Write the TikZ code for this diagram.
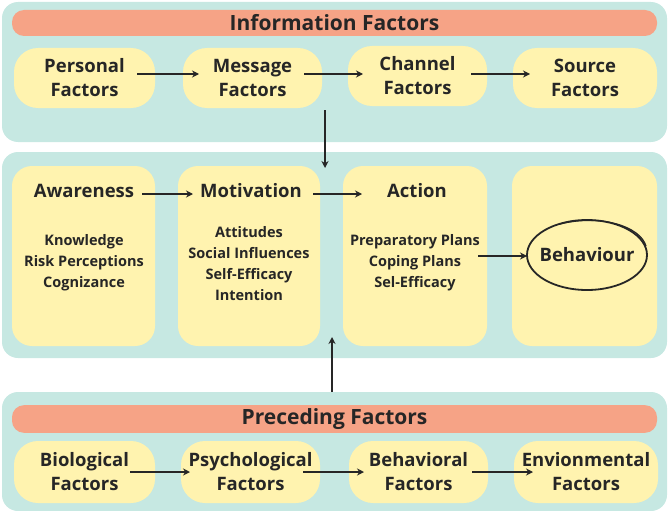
\documentclass[tikz,border=0pt]{standalone}
\usepackage{fontspec}
\setmainfont{Open Sans}
\usetikzlibrary{arrows.meta,shapes.geometric}
\definecolor{teal}{HTML}{C6E8E2}
\definecolor{salmon}{HTML}{F6A386}
\definecolor{yel}{HTML}{FFF3AF}
\tikzset{
 band/.style={fill=teal,draw=none,rounded corners=16pt},
 bar/.style={fill=salmon,draw=none,rounded corners=12pt,font=\bfseries\fontsize{21}{22}\selectfont,text=black!85},
 pill/.style={fill=yel,draw=none,rounded corners=24pt,font=\bfseries\fontsize{18.5}{24}\selectfont,align=center,text=black!85},
 box/.style={fill=yel,draw=none,rounded corners=20pt},
 hd/.style={font=\bfseries\fontsize{18.5}{20}\selectfont,text=black!85},
 sub/.style={font=\bfseries\fontsize{14.5}{21}\selectfont,align=center,text=black!85},
 arr/.style={-{Stealth[length=7pt,width=7pt]},line width=1.3pt,black!85}
}
\begin{document}
\begin{tikzpicture}[x=1pt,y=-1pt]
\useasboundingbox (0,0) rectangle (669,511);
% top band
\fill[band] (2,2) rectangle (667,142);
\node[bar,minimum width=645,minimum height=26] (t1) at (334.5,23) {Information Factors};
\node[pill,minimum width=141,minimum height=60] (p1) at (84.5,78) {Personal\\Factors};
\node[pill,minimum width=139,minimum height=60] (p2) at (252.5,78) {Message\\Factors};
\node[pill,minimum width=139,minimum height=60] (p3) at (417.5,76) {Channel\\Factors};
\node[pill,minimum width=144,minimum height=60] (p4) at (585,78) {Source\\Factors};
% middle
\fill[band] (2,152) rectangle (667,358);
\node[box,minimum width=143,minimum height=180] (b1) at (83.5,256) {};
\node[box,minimum width=142,minimum height=180] (b2) at (249,256) {};
\node[box,minimum width=144,minimum height=180] (b3) at (415,256) {};
\node[box,minimum width=145,minimum height=180] (b4) at (584.5,256) {};
\node[hd] (h1) at (84,191) {Awareness};
\node[hd] (h2) at (251,191) {Motivation};
\node[hd] (h3) at (417,191) {Action};
\node[sub] (s1) at (84,263) {Knowledge\\Risk Perceptions\\Cognizance};
\node[sub] (s2) at (249,264) {Attitudes\\Social Influences\\Self-Efficacy\\Intention};
\node[sub] (s3) at (415,263) {Preparatory Plans\\Coping Plans\\Sel-Efficacy};
\node[hd] (bh) at (587,255) {Behaviour};
\draw[line width=1.8pt,black!85] (bh) ellipse[x radius=60,y radius=35];
\draw[line width=1.2pt,black!85] (560,224) .. controls (600,214) and (640,226) .. (646,246);
% bottom band
\fill[band] (2,392) rectangle (667,511);
\node[bar,minimum width=645,minimum height=26] (t2) at (334.5,419) {Preceding Factors};
\node[pill,minimum width=141,minimum height=62] (q1) at (84.5,472) {Biological\\Factors};
\node[pill,minimum width=139,minimum height=62] (q2) at (250.5,472) {Psychological\\Factors};
\node[pill,minimum width=139,minimum height=62] (q3) at (418.5,472) {Behavioral\\Factors};
\node[pill,minimum width=144,minimum height=62] (q4) at (586,472) {Envionmental\\Factors};
% arrows
\coordinate (a1s) at (137,74); \coordinate (a1e) at (199,74);
\draw[arr] (a1s) -- (a1e);
\coordinate (a2s) at (304,74); \coordinate (a2e) at (363,74);
\draw[arr] (a2s) -- (a2e);
\coordinate (a3s) at (471,74); \coordinate (a3e) at (530,74);
\draw[arr] (a3s) -- (a3e);
\coordinate (v1s) at (325,110); \coordinate (v1e) at (325,168);
\draw[arr] (v1s) -- (v1e);
\coordinate (m1s) at (142,194); \coordinate (m1e) at (193,194);
\draw[arr] (m1s) -- (m1e);
\coordinate (m2s) at (313,194); \coordinate (m2e) at (362,194);
\draw[arr] (m2s) -- (m2e);
\coordinate (m3s) at (478,256); \coordinate (m3e) at (527,256);
\draw[arr] (m3s) -- (m3e);
\coordinate (v2s) at (332,392); \coordinate (v2e) at (332,337);
\draw[arr] (v2s) -- (v2e);
\coordinate (c1s) at (130,472); \coordinate (c1e) at (190,472);
\draw[arr] (c1s) -- (c1e);
\coordinate (c2s) at (303,472); \coordinate (c2e) at (364,472);
\draw[arr] (c2s) -- (c2e);
\coordinate (c3s) at (472,472); \coordinate (c3e) at (533,472);
\draw[arr] (c3s) -- (c3e);
\end{tikzpicture}
\end{document}
